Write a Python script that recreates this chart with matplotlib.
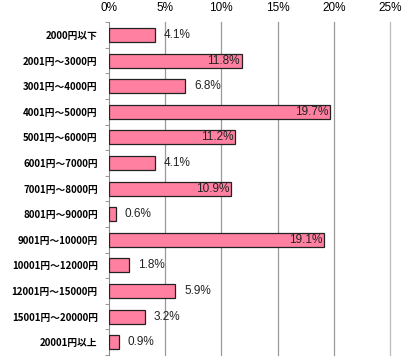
import matplotlib.pyplot as plt

plt.rcParams['font.family'] = ['Liberation Sans', 'Noto Sans CJK JP', 'DejaVu Sans']

categories = ['2000円以下', '2001円～3000円', '3001円～4000円', '4001円～5000円',
              '5001円～6000円', '6001円～7000円', '7001円～8000円', '8001円～9000円',
              '9001円～10000円', '10001円～12000円', '12001円～15000円',
              '15001円～20000円', '20001円以上']
values = [4.1, 11.8, 6.8, 19.7, 11.2, 4.1, 10.9, 0.6, 19.1, 1.8, 5.9, 3.2, 0.9]
xticks = [0, 5, 10, 15, 20, 25]

fig = plt.figure(figsize=(4.14, 3.63), dpi=100)
ax = fig.add_axes([0.263, 0.022, 0.679, 0.917])

y = list(range(len(categories)))
ax.barh(y, values, height=0.55, color='#FF80A0', edgecolor='#222222', linewidth=0.9, zorder=3)

for yi, v in zip(y, values):
    if v >= 10:
        ax.text(v - 0.15, yi, f'{v}%', ha='right', va='center', fontsize=8.5, color='#222222', zorder=4)
    else:
        ax.text(v + 0.8, yi, f'{v}%', ha='left', va='center', fontsize=8.5, color='#222222', zorder=4)

ax.set_xlim(0, 25)
ax.set_ylim(len(categories) - 0.5, -0.5)
ax.set_xticks(xticks)
ax.set_xticklabels([f'{t}%' for t in xticks], fontsize=8.5)
ax.xaxis.tick_top()
ax.tick_params(axis='x', length=0, pad=6)
ax.set_yticks(y)
ax.set_yticklabels(categories, fontsize=7, fontweight='bold', family=['Noto Sans CJK JP'])
ax.set_yticks([i + 0.5 for i in range(-1, len(categories))], minor=True)
ax.tick_params(axis='y', which='major', length=0, pad=8)
ax.tick_params(axis='y', which='minor', length=3, color='#888888')
for t in xticks[1:]:
    ax.axvline(t, color='#999999' if t < 25 else '#bbbbbb', linewidth=0.9, zorder=0, clip_on=False)

for s in ['top', 'right', 'bottom']:
    ax.spines[s].set_visible(False)
ax.spines['left'].set_color('#888888')

fig.savefig('out.png', dpi=100)
